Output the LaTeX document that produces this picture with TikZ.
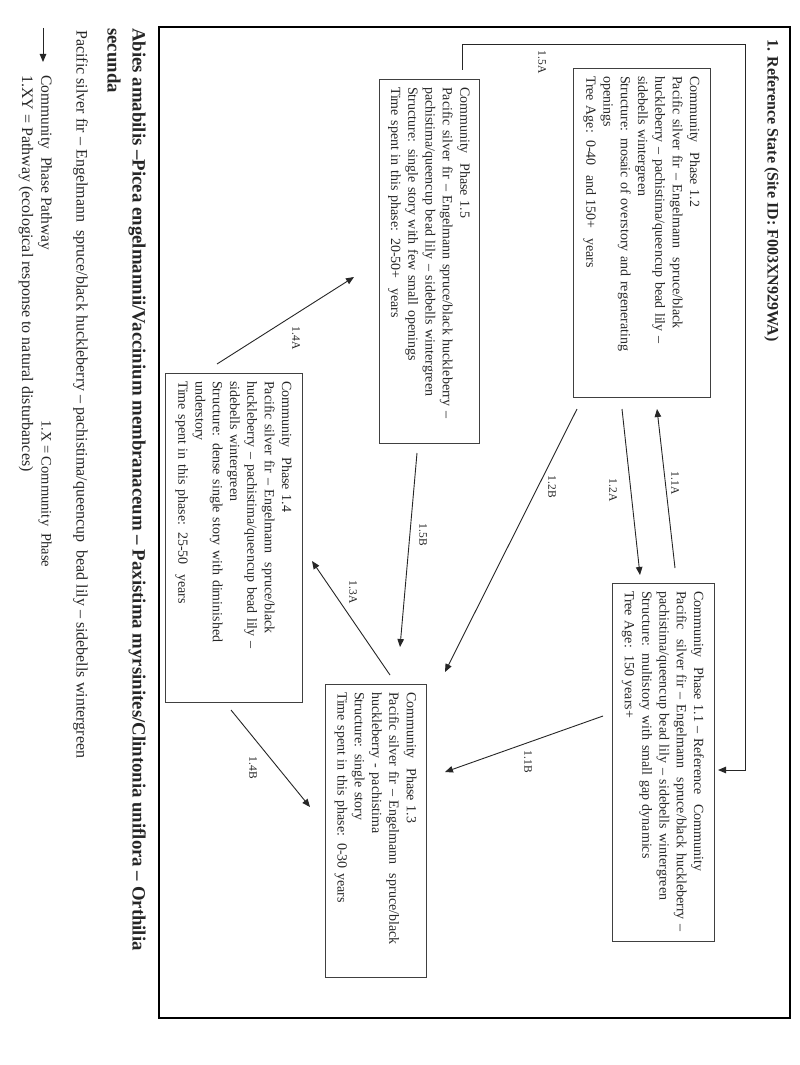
\documentclass[tikz,border=0pt]{standalone}
\usepackage{fontspec}
\setmainfont{Liberation Serif}
\usetikzlibrary{arrows.meta}
\begin{document}
\begin{tikzpicture}[x=1pt,y=-1pt,
  phasebox/.style={draw=black!75, line width=0.9pt, rotate=-90, inner xsep=8pt, inner ysep=3pt,
    font=\fontsize{14}{17.3}\selectfont, align=left, text=black!85},
  conn/.style={line width=0.9pt, draw=black!85, -{Triangle[length=8pt,width=6.5pt]}},
  lbl/.style={rotate=-90, font=\fontsize{11.5}{13}\selectfont, inner sep=1pt, text=black!85},
  plain/.style={rotate=-90, inner sep=0pt, text=black!85}
]
\fill[white] (0,0) rectangle (800,1065);
\useasboundingbox (0,0) rectangle (800,1065);

% frame
\draw[line width=2.5pt] (159,27) rectangle (790,1018);

% title
\node[plain, anchor=north west, font=\bfseries\fontsize{16}{19}\selectfont] (title) at (779,39)
  {1. Reference State (Site ID: F003XN929WA)};

% boxes
\node[phasebox, minimum width=329pt, minimum height=137pt, text width=313pt] (b12) at (641.5,232.5)
  {Community\ \ Phase 1.2\\
   Pacific silver fir -- Engelmann\ \ spruce/black\\
   huckleberry -- pachistima/queencup bead lily --\\
   sidebells wintergreen\\
   Structure: mosaic of overstory and regenerating\\
   openings\\
   Tree Age: 0-40\ \ and 150+\ \ years};

\node[phasebox, minimum width=358pt, minimum height=102pt, text width=342pt] (b11) at (663,762)
  {Community\ \ Phase 1.1 -- Reference\ \ Community\\
   Pacific\ \ silver fir -- Engelmann\ \ spruce/black huckleberry --\\
   pachistima/queencup bead lily -- sidebells wintergreen\\
   Structure: multistory with small gap dynamics\\
   Tree Age: 150 years+};

\node[phasebox, minimum width=364pt, minimum height=100pt, text width=348pt] (b15) at (429,261)
  {Community\ \ Phase 1.5\\
   Pacific silver fir -- Engelmann spruce/black huckleberry --\\
   pachistima/queencup bead lily -- sidebells wintergreen\\
   Structure: single story with few small openings\\
   Time spent in this phase: 20-50+\ \ years};

\node[phasebox, minimum width=329pt, minimum height=137pt, text width=313pt] (b14) at (233.5,537.5)
  {Community\ \ Phase 1.4\\
   Pacific silver fir -- Engelmann\ \ spruce/black\\
   huckleberry -- pachistima/queencup bead lily --\\
   sidebells wintergreen\\
   Structure: dense single story with diminished\\
   understory\\
   Time spent in this phase: 25-50\ \ years};

\node[phasebox, minimum width=293pt, minimum height=101pt, text width=277pt] (b13) at (375.5,830.5)
  {Community\ \ Phase 1.3\\
   Pacific silver fir -- Engelmann\ \ spruce/black\\
   huckleberry - pachistima\\
   Structure: single story\\
   Time spent in this phase: 0-30 years};

% connector end points
\coordinate (s11a) at (675,568); \coordinate (e11a) at (657,409);
\coordinate (s12a) at (622,409); \coordinate (e12a) at (640,575);
\coordinate (s12b) at (577,409); \coordinate (e12b) at (445,672);
\coordinate (s11b) at (603,716); \coordinate (e11b) at (445,772);
\coordinate (s15a) at (462,70);  \coordinate (c15a) at (745,44); \coordinate (e15a) at (718,770);
\coordinate (s15b) at (417,453); \coordinate (e15b) at (400,647);
\coordinate (s13a) at (390,675); \coordinate (e13a) at (312,561);
\coordinate (s14a) at (217,364); \coordinate (e14a) at (354,277);
\coordinate (s14b) at (231,710); \coordinate (e14b) at (310,807);

\draw[conn] (s11a) -- (e11a);
\draw[conn] (s12a) -- (e12a);
\draw[conn] (s12b) -- (e12b);
\draw[conn] (s11b) -- (e11b);
\draw[conn] (s15a) |- (c15a) |- (e15a);
\draw[conn] (s15b) -- (e15b);
\draw[conn] (s13a) -- (e13a);
\draw[conn] (s14a) -- (e14a);
\draw[conn] (s14b) -- (e14b);

% labels
\node[lbl] (l11a) at (675,483) {1.1A};
\node[lbl] (l12a) at (613,490) {1.2A};
\node[lbl] (l12b) at (552,487) {1.2B};
\node[lbl] (l11b) at (528,762) {1.1B};
\node[lbl] (l15a) at (542,62) {1.5A};
\node[lbl] (l15b) at (423,535) {1.5B};
\node[lbl] (l13a) at (353,592) {1.3A};
\node[lbl] (l14a) at (296,338) {1.4A};
\node[lbl] (l14b) at (253,768) {1.4B};

% species names
\node[plain, anchor=north west, align=left, font=\bfseries\fontsize{18.8}{25}\selectfont] (species) at (146,28)
  {Abies amabilis --Picea engelmannii/Vaccinium membranaceum -- Paxistima myrsinites/Clintonia uniflora -- Orthilia\\secunda};
\node[plain, anchor=north west, font=\fontsize{16}{19}\selectfont] (common) at (88,30)
  {Pacific silver fir -- Engelmann\ \ spruce/black huckleberry -- pachistima/queencup\ \ bead lily -- sidebells wintergreen};

% legend
\coordinate (la1) at (43,28); \coordinate (la2) at (43,62);
\draw[conn] (la1) -- (la2);
\node[plain, anchor=west, font=\fontsize{15.5}{17}\selectfont] (leg1) at (45,75) {Community\ \ Phase Pathway};
\node[plain, anchor=west, font=\fontsize{14.5}{16}\selectfont] (leg2) at (45,420) {1.X = Community\ \ Phase};
\node[plain, anchor=west, font=\fontsize{16}{18}\selectfont] (leg3) at (26,75) {1.XY = Pathway (ecological response to natural disturbances)};
\end{tikzpicture}
\end{document}
